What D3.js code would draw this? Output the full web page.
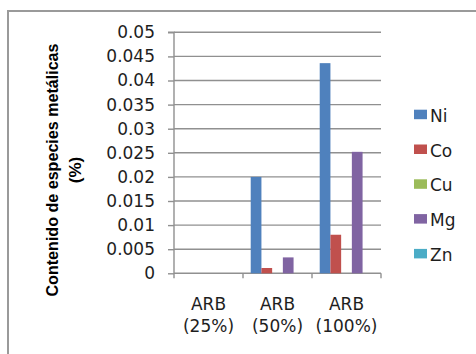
<!DOCTYPE html>
<html>
<head>
<meta charset="utf-8">
<script src="https://cdn.jsdelivr.net/npm/d3@7"></script>
<style>
  html, body { margin: 0; padding: 0; background: #fff; }
  svg { display: block; }
</style>
</head>
<body>
<svg id="chart" width="476" height="354"></svg>
<script>
const categories = [["ARB", "(25%)"], ["ARB", "(50%)"], ["ARB", "(100%)"]];
const seriesNames = ["Ni", "Co", "Cu", "Mg", "Zn"];
const seriesColors = ["#4F81BD", "#C0504D", "#9BBB59", "#8064A2", "#4BACC6"];
const Ni = [0, 0.0200, 0.0436];
const Co = [0, 0.0011, 0.0080];
const Cu = [0, 0, 0];
const Mg = [0, 0.0033, 0.0252];
const Zn = [0, 0, 0];
const tickValues = [0, 0.005, 0.01, 0.015, 0.02, 0.025, 0.03, 0.035, 0.04, 0.045, 0.05];
const tickLabels = ["0", "0.005", "0.01", "0.015", "0.02", "0.025", "0.03", "0.035", "0.04", "0.045", "0.05"];
const yTitle = ["Contenido de especies metálicas", "(%)"];

const seriesValues = [Ni, Co, Cu, Mg, Zn];

const svg = d3.select("#chart");
const font = "'DejaVu Sans', sans-serif";
const textColor = "#1e1e1e";
const gridColor = "#909090";

// outer frame
svg.append("path")
  .attr("d", "M8,354 L8,11 L476,11")
  .attr("fill", "none")
  .attr("stroke", "#9a9a9a")
  .attr("stroke-width", 2);

const plot = { left: 174, right: 381, top: 32.3, bottom: 273.3 };

const x0 = d3.scaleBand()
  .domain(d3.range(categories.length))
  .range([plot.left, plot.right])
  .paddingInner(0).paddingOuter(0);

const x1 = d3.scaleBand()
  .domain(d3.range(seriesNames.length))
  .range([0, x0.bandwidth()])
  .paddingInner(0)
  .paddingOuter(0.72);

const y = d3.scaleLinear().domain([0, 0.05]).range([plot.bottom, plot.top]);

// gridlines
svg.append("g").selectAll("line")
  .data(tickValues.filter(v => v > 0))
  .join("line")
  .attr("x1", plot.left).attr("x2", plot.right)
  .attr("y1", d => y(d)).attr("y2", d => y(d))
  .attr("stroke", gridColor).attr("stroke-width", 1.4);

// y axis
const yAxis = d3.axisLeft(y)
  .tickValues(tickValues)
  .tickSize(6)
  .tickPadding(13)
  .tickFormat((d, i) => tickLabels[i]);
const gy = svg.append("g")
  .attr("transform", `translate(${plot.left},0)`)
  .call(yAxis);
gy.select(".domain").attr("stroke", gridColor).attr("stroke-width", 1.4)
  .attr("d", `M-6,${plot.top}H0V${plot.bottom}`);
gy.selectAll(".tick line").attr("stroke", gridColor).attr("stroke-width", 1.4);
gy.selectAll(".tick text")
  .attr("font-family", font).attr("font-size", 17)
  .attr("fill", textColor);

// x axis
svg.append("line")
  .attr("x1", plot.left).attr("x2", plot.right)
  .attr("y1", plot.bottom).attr("y2", plot.bottom)
  .attr("stroke", gridColor).attr("stroke-width", 1.4);
const boundaries = d3.range(categories.length + 1).map(i =>
  i < categories.length ? x0(i) : x0(categories.length - 1) + x0.bandwidth());
svg.append("g").selectAll("line")
  .data(boundaries)
  .join("line")
  .attr("x1", d => d).attr("x2", d => d)
  .attr("y1", plot.bottom).attr("y2", plot.bottom + 5)
  .attr("stroke", gridColor).attr("stroke-width", 1.4);

// category labels
const catG = svg.append("g").selectAll("text")
  .data(categories)
  .join("text")
  .attr("text-anchor", "middle")
  .attr("font-family", font).attr("font-size", 17)
  .attr("fill", textColor);
catG.append("tspan")
  .attr("x", (d, i) => x0(i) + x0.bandwidth() / 2)
  .attr("y", 310)
  .text(d => d[0]);
catG.append("tspan")
  .attr("x", (d, i) => x0(i) + x0.bandwidth() / 2)
  .attr("y", 332)
  .text(d => d[1]);

// bars
const barData = [];
categories.forEach((c, ci) => {
  seriesValues.forEach((vals, si) => {
    barData.push({ ci, si, v: vals[ci] });
  });
});
svg.append("g").selectAll("rect")
  .data(barData.filter(d => d.v > 0))
  .join("rect")
  .attr("x", d => x0(d.ci) + x1(d.si))
  .attr("width", x1.bandwidth())
  .attr("y", d => y(d.v))
  .attr("height", d => y(0) - y(d.v))
  .attr("fill", d => seriesColors[d.si]);

// legend
const leg = svg.append("g").selectAll("g")
  .data(seriesNames)
  .join("g")
  .attr("transform", (d, i) => `translate(414,${121.7 + i * 34.8})`);
leg.append("rect")
  .attr("x", 0).attr("y", -12).attr("width", 13).attr("height", 9.5)
  .attr("fill", (d, i) => seriesColors[i]);
leg.append("text")
  .attr("x", 16).attr("y", 0)
  .attr("font-family", font).attr("font-size", 17)
  .attr("fill", textColor)
  .text(d => d);

// y title
svg.append("text")
  .attr("transform", "translate(58,170) rotate(-90)")
  .attr("text-anchor", "middle")
  .attr("font-family", "'Liberation Sans Narrow', 'Liberation Sans', sans-serif")
  .attr("font-weight", "bold")
  .attr("font-size", 17)
  .attr("fill", "#000")
  .attr("textLength", 253)
  .attr("lengthAdjust", "spacingAndGlyphs")
  .text(yTitle[0]);
svg.append("text")
  .attr("transform", "translate(81,170) rotate(-90)")
  .attr("text-anchor", "middle")
  .attr("font-family", "'Liberation Sans Narrow', 'Liberation Sans', sans-serif")
  .attr("font-weight", "bold")
  .attr("font-size", 17)
  .attr("fill", "#000")
  .text(yTitle[1]);
</script>
</body>
</html>
